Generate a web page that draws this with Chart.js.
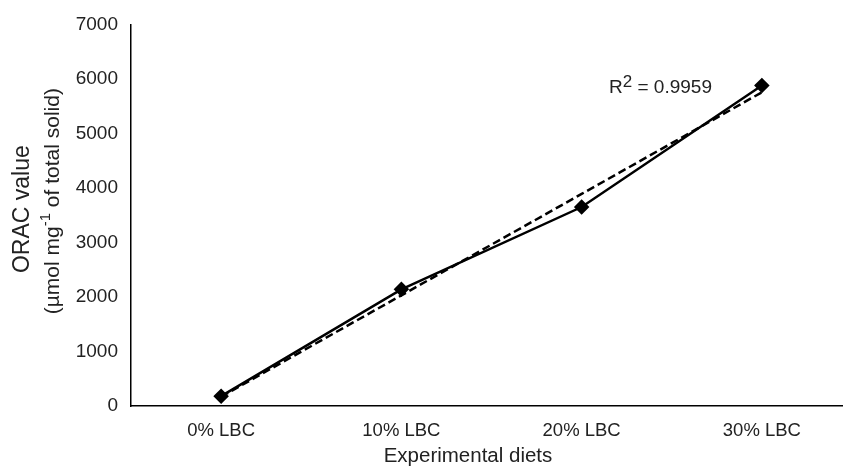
<!DOCTYPE html>
<html>
<head>
<meta charset="utf-8">
<script src="https://cdn.jsdelivr.net/npm/chart.js@4"></script>
<style>
  html, body { margin: 0; padding: 0; background: #fff; overflow: hidden; }
  #orac-chart { display: block; }
</style>
</head>
<body>
<canvas id="orac-chart" width="852" height="469"></canvas>
<script>
        const diets = ['0% LBC', '10% LBC', '20% LBC', '30% LBC'];
        const oracValues = [180, 2140, 3650, 5880];
        const trendValues = [170, 2030, 3890, 5755];
        const yTicks = [0, 1000, 2000, 3000, 4000, 5000, 6000, 7000];
        const rSquared = '0.9959';
        const xTitle = 'Experimental diets';

        const textColor = '#222';
        const fontFamily = '"Liberation Sans", Arial, sans-serif';

        // axis titles (y with superscript) and the R² label
        const labelsPlugin = {
            id: 'labels',
            afterDraw(chart) {
                const ctx = chart.ctx;
                const area = chart.chartArea;
                ctx.save();
                ctx.fillStyle = textColor;

                // x title, sits a bit left of the plot centre like the original
                ctx.font = '20.5px ' + fontFamily;
                ctx.textAlign = 'center';
                ctx.textBaseline = 'alphabetic';
                ctx.fillText(xTitle, 468, 462);

                // rotated y-axis title, two lines
                const midY = (area.top + area.bottom) / 2;
                ctx.translate(0, midY);
                ctx.rotate(-Math.PI / 2);
                ctx.textBaseline = 'middle';
                ctx.font = '23px ' + fontFamily;
                ctx.fillText('ORAC value', 6, 23);

                const big = '21px ' + fontFamily;
                const small = '15px ' + fontFamily;
                const parts = [['(µmol mg', big, 0], ['-1', small, -7], [' of total solid)', big, 0]];
                let total = 0;
                parts.forEach(p => { ctx.font = p[1]; total += ctx.measureText(p[0]).width; });
                let x = 14 - total / 2;
                ctx.textAlign = 'left';
                parts.forEach(p => {
                    ctx.font = p[1];
                    ctx.fillText(p[0], x, 53 + p[2]);
                    x += ctx.measureText(p[0]).width;
                });
                ctx.restore();

                // R² label
                ctx.save();
                ctx.fillStyle = textColor;
                ctx.textBaseline = 'alphabetic';
                ctx.textAlign = 'left';
                let rx = 609;
                const ry = 93;
                ctx.font = '19px ' + fontFamily;
                ctx.fillText('R', rx, ry);
                rx += ctx.measureText('R').width;
                ctx.font = '17px ' + fontFamily;
                ctx.fillText('2', rx, ry - 6);
                rx += ctx.measureText('2').width;
                ctx.font = '19px ' + fontFamily;
                ctx.fillText(' = ' + rSquared, rx, ry);
                ctx.restore();
            }
        };

        const ctx = document.getElementById('orac-chart').getContext('2d');

        new Chart(ctx, {
            type: 'line',
            data: {
                labels: diets,
                datasets: [{
                    label: 'ORAC',
                    data: oracValues,
                    borderColor: '#000',
                    backgroundColor: '#000',
                    borderWidth: 2.5,
                    pointStyle: 'rectRot',
                    pointRadius: 6,
                    pointHoverRadius: 6,
                    tension: 0,
                    fill: false,
                    order: 1
                }, {
                    label: 'Linear trend',
                    data: trendValues,
                    borderColor: '#000',
                    borderWidth: 2.5,
                    borderDash: [8, 4],
                    pointRadius: 0,
                    tension: 0,
                    fill: false,
                    order: 2
                }]
            },
            options: {
                responsive: false,
                animation: false,
                devicePixelRatio: 1,
                layout: { autoPadding: false, padding: { top: 23, right: 0, left: 0, bottom: 0 } },
                plugins: {
                    legend: { display: false },
                    tooltip: { enabled: false }
                },
                scales: {
                    x: {
                        offset: true,
                        grid: { display: false, drawTicks: false },
                        border: { display: true, color: '#000', width: 1.5 },
                        ticks: {
                            color: textColor,
                            padding: 14,
                            autoSkip: false,
                            maxRotation: 0,
                            font: { family: fontFamily, size: 18.5 }
                        },
                        afterFit(scale) {
                            scale.height = 63;
                            scale.paddingLeft = 0;
                            scale.paddingRight = 0;
                        }
                    },
                    y: {
                        min: yTicks[0],
                        max: yTicks[yTicks.length - 1],
                        afterBuildTicks(scale) { scale.ticks = yTicks.map(v => ({ value: v })); },
                        grid: { display: false, drawTicks: false },
                        border: { display: true, color: '#000', width: 1.5 },
                        ticks: {
                            color: textColor,
                            padding: 13,
                            autoSkip: false,
                            callback: v => String(v),
                            font: { family: fontFamily, size: 19 }
                        },
                        afterFit(scale) { scale.width = 131; }
                    }
                }
            },
            plugins: [labelsPlugin]
        });
</script>
</body>
</html>
